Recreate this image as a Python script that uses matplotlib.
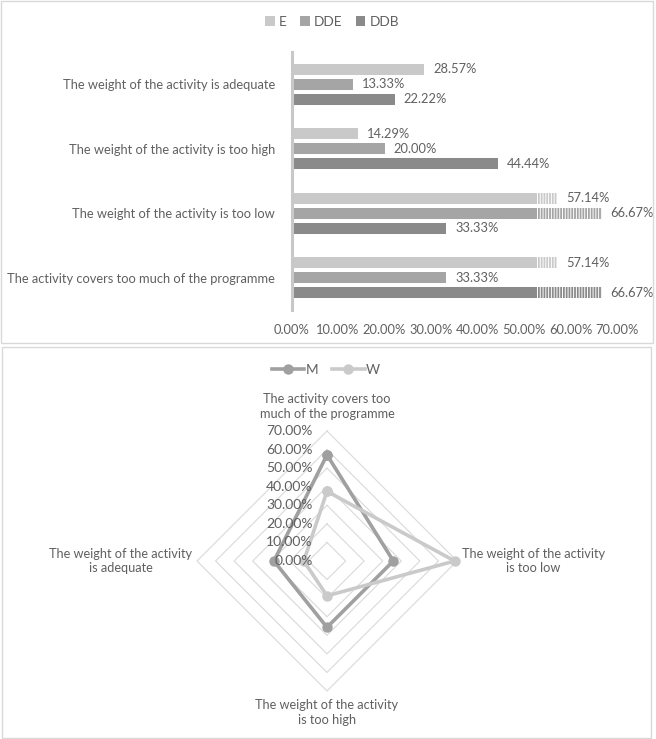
'''
Feedback on the activity weight: bars by group (E, DDE, DDB) and radar by gender (M, W).
'''

import numpy as np
import matplotlib as mpl
mpl.use('Agg')
from matplotlib import pyplot as plt
from matplotlib.patches import Rectangle
from matplotlib.lines import Line2D


mpl.rcParams['font.family']     = ['Lato', 'DejaVu Sans']
mpl.rcParams['hatch.linewidth'] = 0.7
TXT = '#606060'
FS  = 9.3


# data
categories   = ['The weight of the activity is adequate', 'The weight of the activity is too high',
                'The weight of the activity is too low', 'The activity covers too much of the programme']
groups       = ['E', 'DDE', 'DDB']
val_E        = [28.57, 14.29, 57.14, 57.14]
val_DDE      = [13.33, 20.00, 66.67, 33.33]
val_DDB      = [22.22, 44.44, 33.33, 66.67]
xticks_bar   = [0, 10, 20, 30, 40, 50, 60, 70]

radar_axes   = ['The activity covers too\nmuch of the programme', 'The weight of the activity\nis too low',
                'The weight of the activity\nis too high', 'The weight of the activity\nis adequate']
val_M        = [57.14, 35.71, 35.71, 28.57]
val_W        = [37.50, 68.75, 18.75, 12.50]
rings        = [10, 20, 30, 40, 50, 60, 70]
rticks       = [0, 10, 20, 30, 40, 50, 60, 70]


W, H = 656, 739
fig  = plt.figure(figsize=(W/100, H/100), dpi=100)

# panel frames
fig.patches.append(Rectangle((1/W, 1-343/H), 652/W, 342/H, transform=fig.transFigure,
                             fill=False, ec='#d9d9d9', lw=1))
fig.patches.append(Rectangle((2/W, 1/H), 649/W, (H-348)/H, transform=fig.transFigure,
                             fill=False, ec='#d9d9d9', lw=1))


# ---- bar chart ----
ax = fig.add_axes([291.5/W, 1-310/H, (617-291.5)/W, 258/H])
colors  = ['#c9c9c9', '#a5a5a5', '#8a8a8a']
vals    = [val_E, val_DDE, val_DDB]
y       = np.arange(len(categories))
pitch   = 0.2326
hbar    = 0.17
stripe  = 52.8
handles = []
for i,(g,v,c) in enumerate(zip(groups, vals, colors)):
	yy = y + (i-1)*pitch
	h  = ax.barh(yy, v, height=hbar, color=c, lw=0, label=g)
	handles.append(h)
	for yi,vi in zip(yy, v):
		if vi > stripe:
			ax.barh(yi, vi-stripe, left=stripe, height=hbar, color=c, lw=0,
			        hatch='||||||', edgecolor='white')
		ax.text(vi+1.9, yi, '%.2f%%' %vi, va='center', ha='left', fontsize=FS, color=TXT)

ax.set_xlim(0, 70)
ax.set_ylim(3.5, -0.5)
ax.set_yticks(y)
ax.set_yticklabels(categories, fontsize=FS, color=TXT)
ax.set_xticks(xticks_bar)
ax.set_xticklabels(['%.2f%%' %t for t in xticks_bar], fontsize=FS, color=TXT)
ax.tick_params(length=0, pad=12)
ax.tick_params(axis='x', pad=10)
for s in ['top', 'right', 'bottom']:
	ax.spines[s].set_visible(False)
ax.spines['left'].set_color('#c8c8c8')
ax.spines['left'].set_linewidth(2.2)

fig.legend(handles, groups, loc='center', bbox_to_anchor=(332/W, 1-22/H), ncol=3, frameon=False,
           fontsize=FS+0.5, labelcolor=TXT, handlelength=0.7, handleheight=0.7, handletextpad=0.3,
           columnspacing=1.0)


# ---- radar chart ----
cx, cy, rpx = 327, 562, 130          # centre and 70% radius in pixels
k    = rpx/70.0
bot  = H - 348
ax2  = fig.add_axes([0, 1/H, 1, bot/H])
ax2.set_xlim(-cx/k, (W-cx)/k)
ax2.set_ylim(-(H-cy)/k, (bot-(H-cy))/k)
ax2.axis('off')

ang  = np.pi/2 - np.arange(4)*np.pi/2
ang  = np.append(ang, ang[0])
for r in rings:
	ax2.plot(r*np.cos(ang), r*np.sin(ang), color='#d9d9d9', lw=0.8, zorder=1)

for v,c in [(val_M, '#a0a0a0'), (val_W, '#cacaca')]:
	vv = np.append(v, v[0])
	ax2.plot(vv*np.cos(ang), vv*np.sin(ang), color=c, lw=2.6, marker='o', ms=6.5, zorder=2)

for t in rticks:
	ax2.text(-7.8, t, '%.2f%%' %t, ha='right', va='center', fontsize=10, color=TXT, zorder=3)

lab_r = [83, 111, 81.5, 111]
for a,lab,r in zip(ang[:4], radar_axes, lab_r):
	ax2.text(r*np.cos(a), r*np.sin(a), lab, ha='center', va='center', fontsize=9.2,
	         color=TXT, linespacing=1.3)

lh = [Line2D([], [], color='#a0a0a0', lw=2.6, marker='o', ms=6.5),
      Line2D([], [], color='#cacaca', lw=2.6, marker='o', ms=6.5)]
fig.legend(lh, ['M', 'W'], loc='center', bbox_to_anchor=(326/W, 1-370/H), ncol=2, frameon=False,
           fontsize=FS+0.5, labelcolor=TXT, handlelength=2.4, handletextpad=0.1, columnspacing=1.0)


plt.savefig('out.png', dpi=100)
